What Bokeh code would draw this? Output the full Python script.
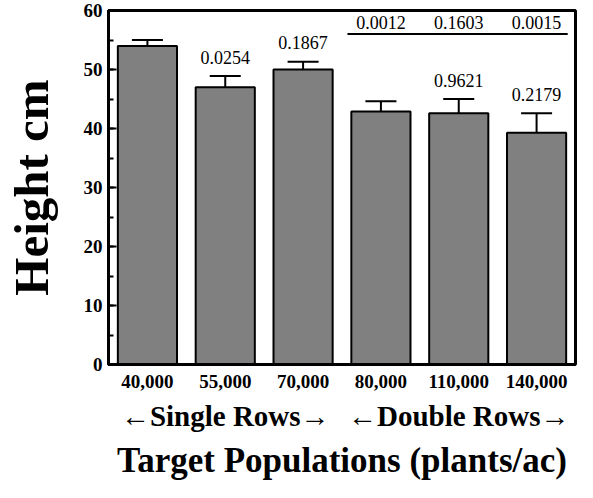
from bokeh.plotting import figure
from bokeh.models import (ColumnDataSource, Range1d, LinearAxis, FixedTicker,
                          SingleIntervalTicker, Whisker, TeeHead)
from bokeh.core.properties import value
from bokeh.embed import file_html
from bokeh.resources import INLINE

# ---- data ----
cats = ["40,000", "55,000", "70,000", "80,000", "110,000", "140,000"]
heights = [54.0, 47.0, 50.0, 42.9, 42.6, 39.3]
errors = [1.0, 1.9, 1.3, 1.7, 2.4, 3.3]
pvals = ["", "0.0254", "0.1867", "", "0.9621", "0.2179"]
top_cats = ["80,000", "110,000", "140,000"]
top_pvals = ["0.0012", "0.1603", "0.0015"]
top_line_y = 56.0
groups = ["\u2190Single Rows\u2192", "\u2190Double Rows\u2192"]
group_members = [["40,000", "55,000", "70,000"], ["80,000", "110,000", "140,000"]]
y_title = "Height cm"
x_title = "Target Populations (plants/ac)"

FONT = "Liberation Serif"

xs = [i + 0.5 for i in range(len(cats))]
pos = dict(zip(cats, xs))

src = ColumnDataSource(dict(
    x=xs, top=heights, err=errors,
    upper=[h + e for h, e in zip(heights, errors)],
    lab=pvals,
    laby=[h + e + 3.2 for h, e in zip(heights, errors)],
))

p = figure(x_range=Range1d(0, len(cats)), y_range=Range1d(0, 60),
           width=577, height=482, output_backend="svg", toolbar_location=None,
           min_border_left=105, min_border_top=10, min_border_right=2, min_border_bottom=110)
p.background_fill_color = "white"
p.border_fill_color = "white"
p.outline_line_color = "black"
p.outline_line_width = 3
p.xgrid.visible = False
p.ygrid.visible = False

p.vbar(x="x", top="top", width=0.76, source=src, fill_color="#808080",
       line_color="black", line_width=2)

wh = Whisker(base="x", lower="top", upper="upper", source=src, line_width=2, line_color="black",
             upper_head=TeeHead(size=31, line_width=2, line_color="black"), lower_head=None)
p.add_layout(wh)

p.text(x="x", y="laby", text="lab", source=src, text_align="center", text_baseline="middle",
       text_font=value(FONT), text_font_size="18px", text_color="black")

# top comparisons
tx = [pos[c] for c in top_cats]
tsrc = ColumnDataSource(dict(x=tx, y=[top_line_y + 1.9] * len(top_cats), t=top_pvals))
p.text(x="x", y="y", text="t", source=tsrc, text_align="center", text_baseline="middle",
       text_font=value(FONT), text_font_size="18px", text_color="black")
p.segment(x0=[tx[0] - 0.43], x1=[tx[-1] + 0.4], y0=[top_line_y], y1=[top_line_y],
          line_color="black", line_width=2)

# y axis
ya = p.yaxis[0]
ya.ticker = SingleIntervalTicker(interval=10, num_minor_ticks=2)
ya.axis_line_width = 3
ya.major_tick_in = 8
ya.major_tick_out = 0
ya.minor_tick_in = 5
ya.minor_tick_out = 0
ya.major_tick_line_width = 2
ya.minor_tick_line_width = 2
ya.major_label_text_font = FONT
ya.major_label_text_font_style = "bold"
ya.major_label_text_font_size = "19px"
ya.major_label_text_color = "black"
ya.major_label_standoff = 6
ya.axis_label = y_title
ya.axis_label_text_font = FONT
ya.axis_label_text_font_style = "bold"
ya.axis_label_text_font_size = "49px"
ya.axis_label_text_color = "black"
ya.axis_label_standoff = 22
ya.axis_label_text_line_height = 1.0

# x axis (categories)
xa = p.xaxis[0]
xa.ticker = FixedTicker(ticks=xs, minor_ticks=[])
xa.major_label_overrides = {x: c for x, c in zip(xs, cats)}
xa.axis_line_width = 3
xa.major_tick_in = 0
xa.major_tick_out = 0
xa.minor_tick_in = 0
xa.minor_tick_out = 0
xa.major_label_text_font = FONT
xa.major_label_text_font_style = "bold"
xa.major_label_text_font_size = "19px"
xa.major_label_text_color = "black"
xa.major_label_text_line_height = 1.0
xa.major_label_standoff = 10

# group axis
gx = [sum(pos[c] for c in m) / len(m) for m in group_members]
ga = LinearAxis(ticker=FixedTicker(ticks=gx, minor_ticks=[]),
                major_label_overrides={t: g for t, g in zip(gx, groups)})
ga.axis_line_color = None
ga.major_tick_line_color = None
ga.minor_tick_line_color = None
ga.major_label_text_font = FONT
ga.major_label_text_font_style = "bold"
ga.major_label_text_font_size = "29px"
ga.major_label_text_color = "black"
ga.major_label_text_line_height = 1.0
ga.major_label_standoff = 3
ga.axis_label = x_title
ga.axis_label_text_font = FONT
ga.axis_label_text_font_style = "bold"
ga.axis_label_text_font_size = "35px"
ga.axis_label_text_color = "black"
ga.axis_label_text_line_height = 1.0
ga.axis_label_standoff = 6
p.add_layout(ga, "below")

open("out.html", "w").write(file_html(p, INLINE))
